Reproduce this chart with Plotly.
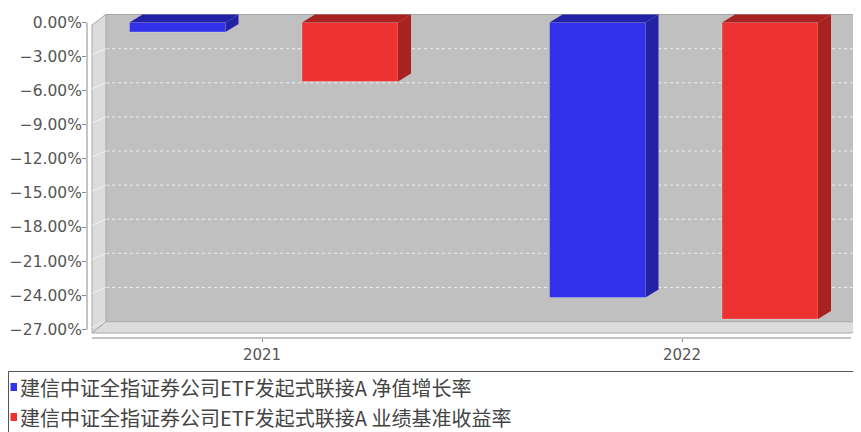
import plotly.graph_objects as go

# ---------------- data ----------------
years = ["2021", "2022"]
nav_growth = [-0.84, -24.2]        # 净值增长率 (%)
benchmark_return = [-5.2, -26.1]   # 业绩基准收益率 (%)
series_names = [
    "建信中证全指证券公司ETF发起式联接A 净值增长率",
    "建信中证全指证券公司ETF发起式联接A 业绩基准收益率",
]
y_tick_values = [0, -3, -6, -9, -12, -15, -18, -21, -24, -27]
y_tick_labels = [f"{v:.2f}%".replace("-", "\u2212") for v in y_tick_values]
title_text = "历年净值增长率对比"

# ---------------- layout constants (window pixels) ----------------
OFF = 8                                     # page body margin
WIN_W, WIN_H = 861, 432
W, H = WIN_W - OFF, WIN_H - OFF             # figure size
PL, PR, PT, PB = 87, 861, 14, 338          # plot area edges (window px)
Y0_PX, PX_PER_PCT = 22.4, 11.367            # y pixel of 0 %, px per 1 %
X0_PX, PX_PER_CAT = 262, 420                # x pixel of first category, px per category

y_top = (Y0_PX - PT) / PX_PER_PCT
y_bot = -(PB - Y0_PX) / PX_PER_PCT
x_left = (PL - X0_PX) / PX_PER_CAT
x_right = (PR - X0_PX) / PX_PER_CAT


def ux(px):
    return px / PX_PER_CAT


def uy(px):
    return px / PX_PER_PCT


def px_to_x(px):
    return (px - X0_PX) / PX_PER_CAT


def py_to_y(py):
    return (Y0_PX - py) / PX_PER_PCT


def paper_x(px):
    return (px - PL) / (PR - PL)


def paper_y(py):
    return (PB - py) / (PB - PT)


# 3D box geometry
xf, xb = px_to_x(92), px_to_x(106)          # front / back left edge
xfr, xbr = px_to_x(851), px_to_x(875)       # front / back right edge
yft, ybt = py_to_y(25), py_to_y(14.3)       # front / back top
yfb, ybb = py_to_y(333), py_to_y(321.7)     # front / back bottom
grid_shift = uy(7.8)

BAR_W = ux(96)
BAR_OFFSETS = [ux(-132.5), ux(40)]
BAR_DX, BAR_DY = ux(13), uy(8)

front_colors = ["#3232ec", "#ee3232"]
dark_colors = ["#2222a6", "#a82222"]

shapes = []


def path_of(xs, ys):
    pts = " L".join(f"{x},{y}" for x, y in zip(xs, ys))
    return "M" + pts + " Z"


def bg_poly(xs, ys, fill, line="rgba(0,0,0,0)", width=0):
    shapes.append(dict(type="path", xref="x", yref="y", layer="below",
                       path=path_of(xs, ys), fillcolor=fill,
                       line=dict(color=line, width=width)))


# back plane
bg_poly([xb, xbr, xbr, xb], [ybb, ybb, ybt, ybt], "#c0c0c0")
# grid lines on back plane
for t in y_tick_values[1:]:
    shapes.append(dict(type="line", xref="x", yref="y", layer="below",
                       x0=xb, x1=xbr, y0=t + grid_shift, y1=t + grid_shift,
                       line=dict(color="rgba(255,255,255,0.75)", width=1, dash="3px,3px")))
# back top edge
shapes.append(dict(type="line", xref="x", yref="y", layer="below",
                   x0=xb, x1=xbr, y0=ybt, y1=ybt, line=dict(color="#9a9a9a", width=1)))
# left wall
bg_poly([xf, xb, xb, xf], [yft, ybt, ybb, yfb], "#dcdcdc", "#a8a8a8", 1)
for t in y_tick_values[1:]:
    shapes.append(dict(type="line", xref="x", yref="y", layer="below",
                       x0=xf, x1=xb, y0=t + grid_shift - uy(6), y1=t + grid_shift,
                       line=dict(color="rgba(255,255,255,0.6)", width=1)))
# floor
bg_poly([xf, xfr, xbr, xb], [yfb, yfb, ybb, ybb], "#dcdcdc", "#a8a8a8", 1)

fig = go.Figure()


def face(xs, ys, fill):
    fig.add_trace(go.Scatter(
        x=xs + [xs[0]], y=ys + [ys[0]], mode="lines", fill="toself",
        fillcolor=fill, line=dict(color="rgba(0,0,0,0)", width=0),
        hoverinfo="skip", showlegend=False))


# bars with 3D faces
all_series = [nav_growth, benchmark_return]
for s, values in enumerate(all_series):
    fig.add_trace(go.Bar(
        x=list(range(len(years))), y=values, base=0,
        width=BAR_W, offset=BAR_OFFSETS[s],
        marker=dict(color=front_colors[s], line=dict(color="rgba(255,255,255,0.25)", width=1)),
        name=series_names[s], showlegend=False,
        hovertemplate="%{y:.2f}%<extra></extra>"))
for s, values in enumerate(all_series):
    for i, v in enumerate(values):
        x0 = i + BAR_OFFSETS[s]
        x1 = x0 + BAR_W
        face([x0, x0 + BAR_DX, x1 + BAR_DX, x1], [0, BAR_DY, BAR_DY, 0], dark_colors[s])
        face([x1, x1 + BAR_DX, x1 + BAR_DX, x1], [0, BAR_DY, v + BAR_DY, v], dark_colors[s])

# axis lines
shapes.append(dict(type="line", xref="paper", yref="y", x0=0, x1=0, y0=-27.05, y1=0,
                   line=dict(color="#888888", width=1)))
shapes.append(dict(type="line", xref="x", yref="paper", x0=xf, x1=xfr, y0=0, y1=0,
                   line=dict(color="#888888", width=1)))
# legend box
shapes.append(dict(type="rect", xref="paper", yref="paper",
                   x0=paper_x(OFF + 0.5), x1=paper_x(WIN_W + 5), y0=paper_y(445), y1=paper_y(371.5),
                   line=dict(color="#555555", width=1), fillcolor="rgba(0,0,0,0)"))

annotations = [
    dict(text=title_text, xref="paper", yref="paper",
         x=paper_x(443), y=paper_y(-3), xanchor="center", yanchor="middle",
         showarrow=False, font=dict(family="Noto Sans CJK SC", size=17, color="#333333")),
]
# custom legend (small squares + series names)
legend_rows = [387, 417]
for s in range(2):
    cy = legend_rows[s]
    shapes.append(dict(type="rect", xref="paper", yref="paper",
                       x0=paper_x(10.5), x1=paper_x(17), y0=paper_y(cy + 4), y1=paper_y(cy - 4),
                       fillcolor=front_colors[s], line=dict(width=0)))
    annotations.append(dict(
        text=series_names[s], xref="paper", yref="paper",
        x=paper_x(18), y=paper_y(cy), xanchor="left", yanchor="middle",
        showarrow=False, font=dict(family="Noto Sans CJK SC", size=20, color="#444444")))

fig.update_layout(
    width=W, height=H,
    margin=dict(l=PL - OFF, r=WIN_W - PR, t=PT - OFF, b=WIN_H - PB, pad=0),
    paper_bgcolor="white", plot_bgcolor="white",
    barmode="overlay",
    showlegend=False,
    xaxis=dict(
        range=[x_left, x_right], tickvals=list(range(len(years))), ticktext=years,
        showgrid=False, zeroline=False, showline=False,
        ticks="outside", ticklen=3, tickcolor="#888888",
        tickfont=dict(family="DejaVu Sans", size=15, color="#555555"),
        fixedrange=True, automargin=False,
    ),
    yaxis=dict(
        range=[y_bot, y_top], tickvals=y_tick_values, ticktext=y_tick_labels,
        showgrid=False, zeroline=False, showline=False,
        ticks="outside", ticklen=4, tickcolor="#888888", ticklabelstandoff=-3,
        tickfont=dict(family="DejaVu Sans", size=15.5, color="#555555"),
        fixedrange=True, automargin=False,
    ),
    shapes=shapes,
    annotations=annotations,
)

fig.write_html("out.html")
